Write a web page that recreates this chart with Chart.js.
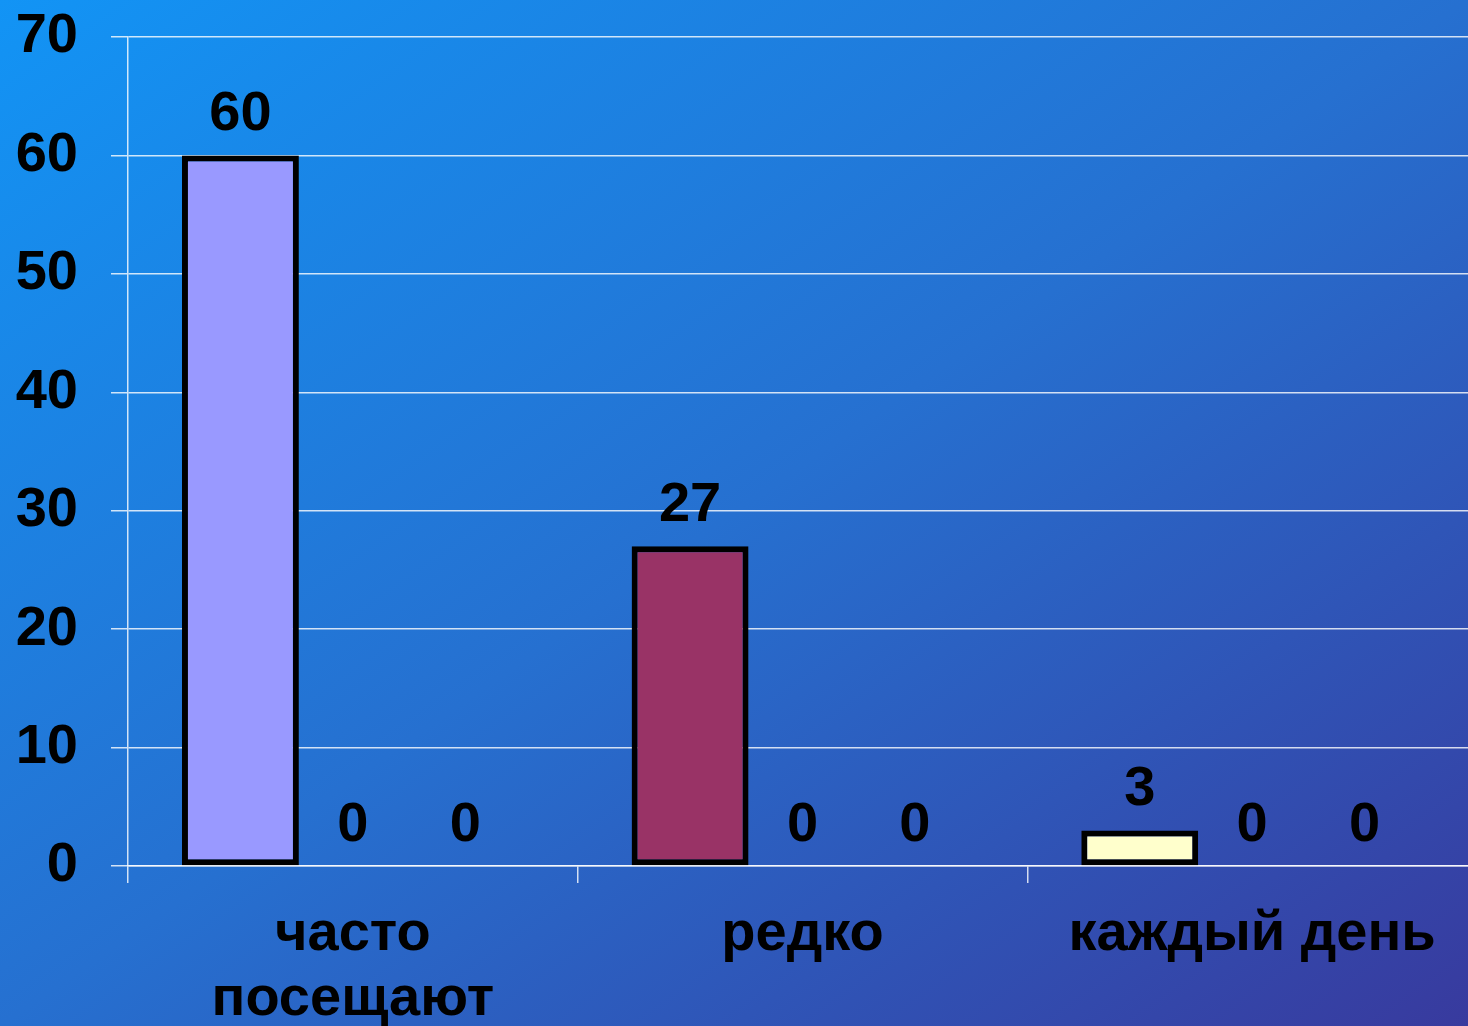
<!DOCTYPE html>
<html>
<head>
<meta charset="utf-8">
<script src="https://cdn.jsdelivr.net/npm/chart.js@4.4.0/dist/chart.umd.min.js"></script>
<style>
    html, body {
        margin: 0;
        padding: 0;
        width: 1468px;
        height: 1026px;
        overflow: hidden;
    }
    body {
        background: linear-gradient(to bottom right, #1294f5, #2670d0, #383a9e);
    }
    canvas { display: block; }
</style>
</head>
<body>
<canvas id="visitChart" width="1478" height="1026"></canvas>
<script>
const categories = [["часто", "посещают"], "редко", "каждый день"];
const series1 = [60, 27, 3];
const series2 = [0, 0, 0];
const series3 = [0, 0, 0];
const barColors = ["#9999ff", "#993366", "#ffffcc"];
const yMax = 70;
const yStep = 10;

const FONT = '"Liberation Sans", Arial, sans-serif';

// value labels above every bar (zeros too)
const valueLabels = {
    id: "valueLabels",
    afterDatasetsDraw(chart) {
        const ctx = chart.ctx;
        ctx.save();
        ctx.font = "bold 56px " + FONT;
        ctx.fillStyle = "#000";
        ctx.textAlign = "center";
        ctx.textBaseline = "alphabetic";
        chart.data.datasets.forEach((ds, i) => {
            chart.getDatasetMeta(i).data.forEach((bar, j) => {
                ctx.fillText(String(ds.data[j]), bar.x, bar.y - 25);
            });
        });
        ctx.restore();
    }
};

const gridColor = "rgba(255, 255, 255, 0.8)";

const ctx = document.getElementById("visitChart").getContext("2d");
new Chart(ctx, {
    type: "bar",
    data: {
        labels: categories,
        datasets: [
            {
                label: "Ряд 1",
                data: series1,
                backgroundColor: barColors,
                borderColor: "#000",
                borderWidth: 6,
                borderSkipped: false
            },
            {
                label: "Ряд 2",
                data: series2,
                backgroundColor: "#993366",
                borderWidth: 0
            },
            {
                label: "Ряд 3",
                data: series3,
                backgroundColor: "#ffffcc",
                borderWidth: 0
            }
        ]
    },
    options: {
        responsive: false,
        animation: false,
        categoryPercentage: 0.75,
        barPercentage: 1.04,
        layout: { padding: { top: 37, right: 1, left: 0, bottom: 0 } },
        plugins: {
            legend: { display: false },
            tooltip: { enabled: false }
        },
        scales: {
            x: {
                grid: {
                    drawOnChartArea: false,
                    drawTicks: true,
                    tickLength: 17,
                    color: gridColor,
                    lineWidth: 1.5,
                    offset: true
                },
                border: { display: true, color: gridColor, width: 1.5 },
                ticks: {
                    color: "#000",
                    font: { family: FONT, size: 56, weight: "bold", lineHeight: 1.16 },
                    padding: 19,
                    maxRotation: 0,
                    autoSkip: false
                },
                afterFit(scale) {
                    scale.height = 160;
                    scale.paddingLeft = 0;
                    scale.paddingRight = 0;
                }
            },
            y: {
                min: 0,
                max: yMax,
                grid: {
                    color: gridColor,
                    lineWidth: 1.5,
                    tickLength: 17
                },
                border: { display: true, color: gridColor, width: 1.5 },
                ticks: {
                    stepSize: yStep,
                    color: "#000",
                    font: { family: FONT, size: 56, weight: "bold" },
                    padding: 33
                },
                afterFit(scale) {
                    scale.width = 128;
                    scale.paddingTop = 0;
                    scale.paddingBottom = 0;
                }
            }
        }
    },
    plugins: [valueLabels]
});
</script>
</body>
</html>
